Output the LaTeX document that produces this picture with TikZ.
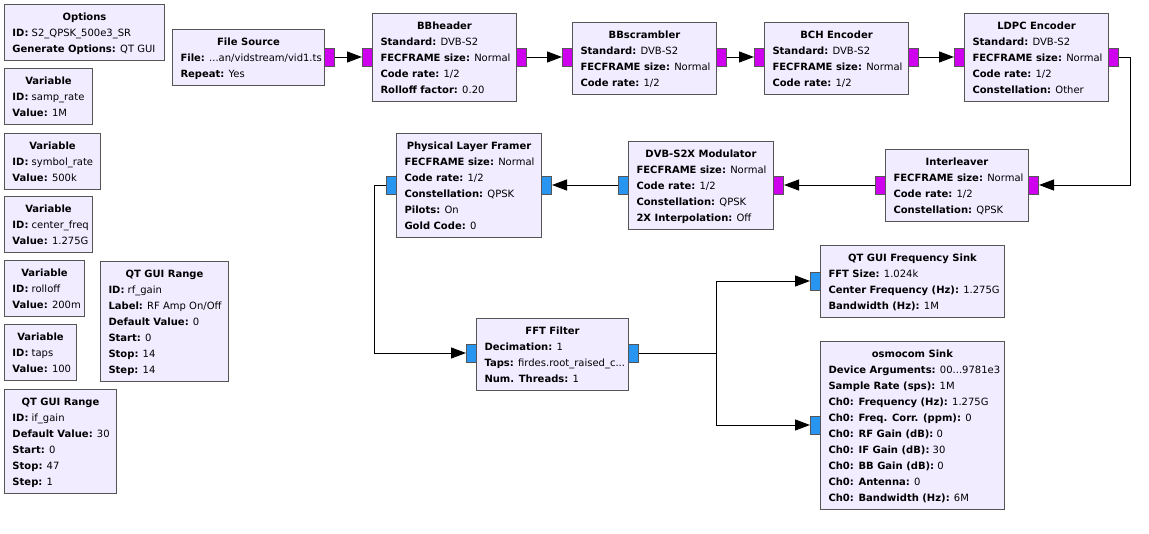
\documentclass[tikz,border=0pt]{standalone}
\usepackage{fontspec}
\setmainfont{DejaVu Sans}
\usetikzlibrary{arrows.meta}
\definecolor{blockfill}{HTML}{F1ECFF}
\definecolor{bordercol}{HTML}{555555}
\definecolor{portmag}{RGB}{206,0,238}
\definecolor{portblue}{RGB}{40,150,240}
\newcommand\st{\rule[-4.5pt]{0pt}{16pt}}
\newcommand\kv[2]{\mbox{\st\textbf{#1:} #2}}
\newcommand\grc[7]{%
  \node[blk, minimum width={(#4-#2)*1pt}, minimum height={(#5-#3)*1pt}] (#1) at (#2,#3)
  {\parbox{\dimexpr #4pt-#2pt-16pt\relax}{\centering\mbox{\st\textbf{#6}}\par\raggedright #7\par}};}
\newcommand\prt[4]{\node[prt, fill=#4] (#1) at (#2,#3) {};}
\begin{document}
\begin{tikzpicture}[x=1pt, y=-1pt,
  font=\fontsize{10}{16}\selectfont,
  blk/.style={draw=bordercol, fill=blockfill, line width=1pt, anchor=north west,
    inner xsep=8pt, inner ysep=4pt},
  prt/.style={draw=bordercol, line width=1pt, anchor=west, minimum width=10pt,
    minimum height=18pt, inner sep=0pt},
  conn/.style={draw=black, line width=1pt, -{Triangle[length=15pt,width=11pt]}},
  wire/.style={draw=black, line width=1pt}]
\useasboundingbox[fill=white] (0,0) rectangle (1149,533);

% variables / options
\grc{opt}{4}{4}{164}{60}{Options}{\kv{ID}{S2\_QPSK\_500e3\_SR}\\\kv{Generate Options}{QT GUI}}
\grc{v1}{4}{68}{92}{124}{Variable}{\kv{ID}{samp\_rate}\\\kv{Value}{1M}}
\grc{v2}{4}{133}{100}{189}{Variable}{\kv{ID}{symbol\_rate}\\\kv{Value}{500k}}
\grc{v3}{4}{196}{92}{252}{Variable}{\kv{ID}{center\_freq}\\\kv{Value}{1.275G}}
\grc{v4}{4}{260}{84}{316}{Variable}{\kv{ID}{rolloff}\\\kv{Value}{200m}}
\grc{v5}{4}{324}{76}{380}{Variable}{\kv{ID}{taps}\\\kv{Value}{100}}
\grc{rng1}{100}{261}{228}{381}{QT GUI Range}{\kv{ID}{rf\_gain}\\\kv{Label}{RF Amp On/Off}\\\kv{Default Value}{0}\\\kv{Start}{0}\\\kv{Stop}{14}\\\kv{Step}{14}}
\grc{rng2}{4}{389}{116}{493}{QT GUI Range}{\kv{ID}{if\_gain}\\\kv{Default Value}{30}\\\kv{Start}{0}\\\kv{Stop}{47}\\\kv{Step}{1}}

% top chain
\grc{fs}{172}{29}{324}{85}{File Source}{\kv{File}{...an/vidstream/vid1.ts}\\\kv{Repeat}{Yes}}
\grc{bbh}{372}{13}{516}{101}{BBheader}{\kv{Standard}{DVB-S2}\\\kv{FECFRAME size}{Normal}\\\kv{Code rate}{1/2}\\\kv{Rolloff factor}{0.20}}
\grc{bbs}{572}{22}{716}{94}{BBscrambler}{\kv{Standard}{DVB-S2}\\\kv{FECFRAME size}{Normal}\\\kv{Code rate}{1/2}}
\grc{bch}{764}{22}{908}{94}{BCH Encoder}{\kv{Standard}{DVB-S2}\\\kv{FECFRAME size}{Normal}\\\kv{Code rate}{1/2}}
\grc{ldpc}{964}{13}{1108}{101}{LDPC Encoder}{\kv{Standard}{DVB-S2}\\\kv{FECFRAME size}{Normal}\\\kv{Code rate}{1/2}\\\kv{Constellation}{Other}}

% second row
\grc{il}{885}{149}{1028}{221}{Interleaver}{\kv{FECFRAME size}{Normal}\\\kv{Code rate}{1/2}\\\kv{Constellation}{QPSK}}
\grc{mod}{628}{141}{773}{229}{DVB-S2X Modulator}{\kv{FECFRAME size}{Normal}\\\kv{Code rate}{1/2}\\\kv{Constellation}{QPSK}\\\kv{2X Interpolation}{Off}}
\grc{plf}{396}{133}{541}{237}{Physical Layer Framer}{\kv{FECFRAME size}{Normal}\\\kv{Code rate}{1/2}\\\kv{Constellation}{QPSK}\\\kv{Pilots}{On}\\\kv{Gold Code}{0}}

% bottom
\grc{fft}{476}{318}{628}{390}{FFT Filter}{\kv{Decimation}{1}\\\kv{Taps}{firdes.root\_raised\_c...}\\\kv{Num. Threads}{1}}
\grc{qt}{820}{245}{1004}{317}{QT GUI Frequency Sink}{\kv{FFT Size}{1.024k}\\\kv{Center Frequency (Hz)}{1.275G}\\\kv{Bandwidth (Hz)}{1M}}
\grc{osm}{820}{341}{1004}{509}{osmocom Sink}{\kv{Device Arguments}{00...9781e3}\\\kv{Sample Rate (sps)}{1M}\\\kv{Ch0: Frequency (Hz)}{1.275G}\\\kv{Ch0: Freq. Corr. (ppm)}{0}\\\kv{Ch0: RF Gain (dB)}{0}\\\kv{Ch0: IF Gain (dB)}{30}\\\kv{Ch0: BB Gain (dB)}{0}\\\kv{Ch0: Antenna}{0}\\\kv{Ch0: Bandwidth (Hz)}{6M}}

% ports
\prt{fs-o}{324}{57}{portmag}
\prt{bbh-i}{362}{57}{portmag}
\prt{bbh-o}{516}{57}{portmag}
\prt{bbs-i}{562}{57}{portmag}
\prt{bbs-o}{716}{57}{portmag}
\prt{bch-i}{754}{57}{portmag}
\prt{bch-o}{908}{57}{portmag}
\prt{ldpc-i}{954}{57}{portmag}
\prt{ldpc-o}{1108}{57}{portmag}
\prt{il-r}{1028}{185}{portmag}
\prt{il-l}{875}{185}{portmag}
\prt{mod-r}{773}{185}{portmag}
\prt{mod-l}{618}{185}{portblue}
\prt{plf-r}{541}{185}{portblue}
\prt{plf-l}{386}{185}{portblue}
\prt{fft-i}{466}{353}{portblue}
\prt{fft-o}{628}{353}{portblue}
\prt{qt-i}{810}{281}{portblue}
\prt{osm-i}{810}{425}{portblue}

% bends
\coordinate (b1) at (1130,57);
\coordinate (b2) at (374,185);
\coordinate (b3) at (716,353);

% connectors
\draw[conn] (fs-o.east) -- (bbh-i.west);
\draw[conn] (bbh-o.east) -- (bbs-i.west);
\draw[conn] (bbs-o.east) -- (bch-i.west);
\draw[conn] (bch-o.east) -- (ldpc-i.west);
\draw[conn] (ldpc-o.east) -- (b1) |- (il-r.east);
\draw[conn] (il-l.west) -- (mod-r.east);
\draw[conn] (mod-l.west) -- (plf-r.east);
\draw[conn] (plf-l.west) -- (b2) |- (fft-i.west);
\draw[conn] (fft-o.east) -- (b3) |- (qt-i.west);
\draw[conn] (b3) |- (osm-i.west);
\end{tikzpicture}
\end{document}
